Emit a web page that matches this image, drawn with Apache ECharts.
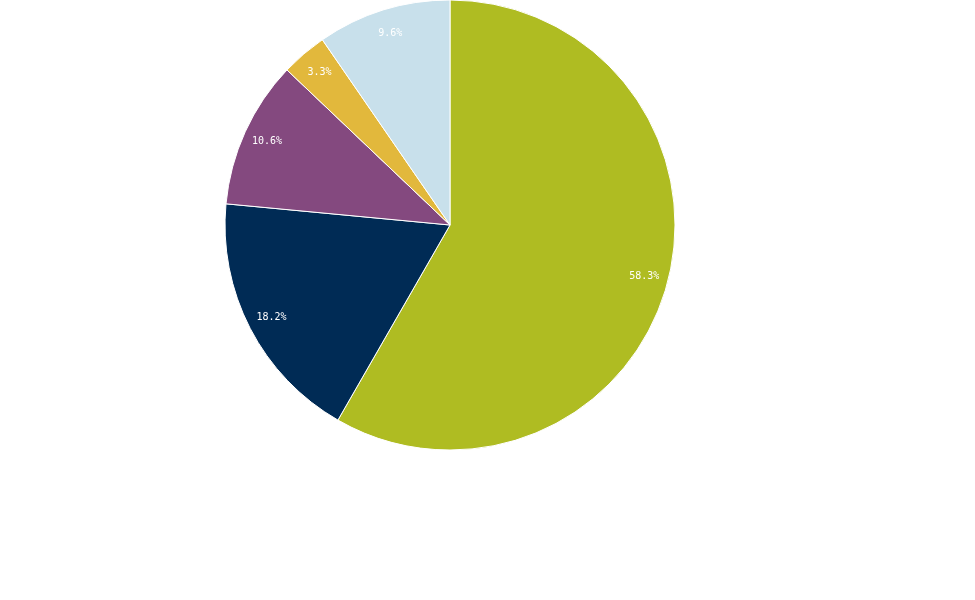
<!DOCTYPE html>
<html><head><meta charset="utf-8">
<script src="https://cdn.jsdelivr.net/npm/echarts@6/dist/echarts.min.js"></script>
<style>html,body{margin:0;padding:0;background:#fff}#c{width:975px;height:600px}</style>
</head><body><div id="c"></div>
<script>
const categories = ['A', 'B', 'C', 'D', 'E'];
const values = [58.3, 18.2, 10.6, 3.3, 9.6];
const colors = ['#afbc22', '#002b55', '#84497f', '#e2b83c', '#c8e0eb'];

const chart = echarts.init(document.getElementById('c'), null, {renderer: 'canvas'});
const data = categories.map((c, i) => ({name: c, value: values[i], itemStyle: {color: colors[i]}}));
const labelData = categories.map((c, i) => ({name: c, value: values[i]}));
chart.setOption({
  animation: false,
  series: [
    {
      type: 'pie',
      center: [450, 225],
      radius: [0, 225],
      startAngle: 90,
      clockwise: true,
      silent: true,
      label: {show: false},
      labelLine: {show: false},
      itemStyle: {borderColor: '#ffffff', borderWidth: 1},
      data: data
    },
    {
      type: 'pie',
      center: [450, 225],
      radius: [0, 396],
      startAngle: 90,
      clockwise: true,
      silent: true,
      itemStyle: {color: 'rgba(0,0,0,0)', borderWidth: 0},
      label: {
        show: true,
        position: 'inside',
        formatter: p => p.value.toFixed(1) + '%',
        color: '#ffffff',
        fontFamily: 'DejaVu Sans Mono',
        fontSize: 10
      },
      labelLine: {show: false},
      data: labelData
    }
  ]
});
</script></body></html>
